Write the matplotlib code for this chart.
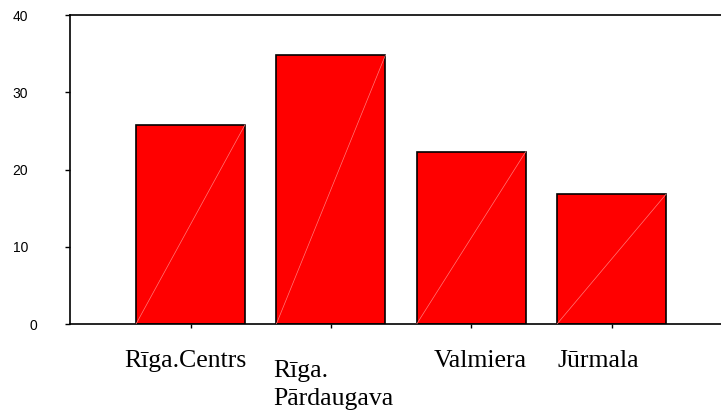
import numpy as np
import matplotlib
matplotlib.use("Agg")
from matplotlib import pyplot as plt
from matplotlib.transforms import ScaledTranslation

# データ
categories = ["Rīga.Centrs", "Rīga.\nPārdaugava", "Valmiera", "Jūrmala"]
values = [25.8, 34.8, 22.3, 16.8]
yticks = [0, 10, 20, 30, 40]

fig = plt.figure(figsize=(7.21, 4.11), dpi=100)
ax = fig.add_axes([70 / 721, 1 - 324 / 411, 1 - 70 / 721, (324 - 15) / 411])

x = np.arange(len(categories))
bars = ax.bar(x, values, width=0.777, color="#ff0000", edgecolor="black", linewidth=1.2, zorder=2)

# 棒の中の薄い対角線
for b in bars:
    x0, w, h = b.get_x(), b.get_width(), b.get_height()
    ax.plot([x0, x0 + w], [0, h], color="#ff7a7a", linewidth=0.5, zorder=3)

ax.set_xlim(-0.859, 3.78)
ax.set_ylim(0, 40)
ax.set_yticks(yticks)
ax.set_yticklabels([str(v) for v in yticks], fontsize=10, family="Liberation Sans")
ax.tick_params(axis="y", direction="out", length=3.6, width=1, pad=26.6)
for lab in ax.get_yticklabels():
    if lab.get_text() == "0":
        lab.set_transform(lab.get_transform() + ScaledTranslation(9 / 100, 0, fig.dpi_scale_trans))

ax.set_xticks(x)
ax.set_xticklabels([])
ax.tick_params(axis="x", direction="out", length=3, width=1)

for s in ["left", "bottom", "top"]:
    ax.spines[s].set_linewidth(1.2)
    ax.spines[s].set_color("black")
ax.spines["right"].set_visible(False)

# ラベル（位置がばらばら）
offsets = [(-5, -43), (2.5, -81), (9, -43), (-13, -43)]
for i, (lab, (dx, dy)) in enumerate(zip(categories, offsets)):
    ax.annotate(lab, xy=(i, 0), xycoords="data",
                xytext=(dx * 0.72, dy * 0.72), textcoords="offset points",
                ha="center", va="baseline", multialignment="left",
                fontsize=18.5, family="Liberation Serif", linespacing=1.34,
                annotation_clip=False)

fig.savefig("out.png", dpi=100)
